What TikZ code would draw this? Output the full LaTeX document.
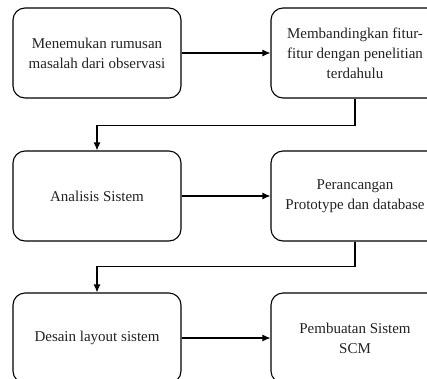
\documentclass[tikz,border=0pt]{standalone}
\usepackage{fontspec}
\setmainfont{Liberation Serif}
\usetikzlibrary{arrows.meta}
\begin{document}
\begin{tikzpicture}[x=1pt,y=-1pt,>={Latex[length=8pt,width=7pt]},
    tahap/.style={draw,line width=1.1pt,rounded corners=12pt,minimum width=168pt,
      minimum height=90pt,align=center,text=teks,font=\fontsize{15}{20}\selectfont},
    alur/.style={->,line width=1.1pt}]
    \definecolor{teks}{HTML}{222222}
    \clip (0,0) rectangle (427,378);
    % Baris 1
    \node[tahap] (masalah) at (97,53) {Menemukan rumusan\\masalah dari observasi};
    \node[tahap] (banding) at (355,53) {Membandingkan fitur-\\fitur dengan penelitian\\terdahulu};
    % Baris 2
    \node[tahap] (analisis) at (97,196) {Analisis Sistem};
    \node[tahap] (rancang) at (355,196) {Perancangan\\Prototype dan database};
    % Baris 3
    \node[tahap] (desain) at (97,338) {Desain layout sistem};
    \node[tahap] (buat) at (355,338) {Pembuatan Sistem\\SCM};
    % Alur antar tahap
    \draw[alur] (masalah) -- (banding);
    \draw[alur] (banding.south) -- ++(0,27) -| (analisis.north);
    \draw[alur] (analisis) -- (rancang);
    \draw[alur] (rancang.south) -- ++(0,25) -| (desain.north);
    \draw[alur] (desain) -- (buat);
  \end{tikzpicture}
\end{document}
